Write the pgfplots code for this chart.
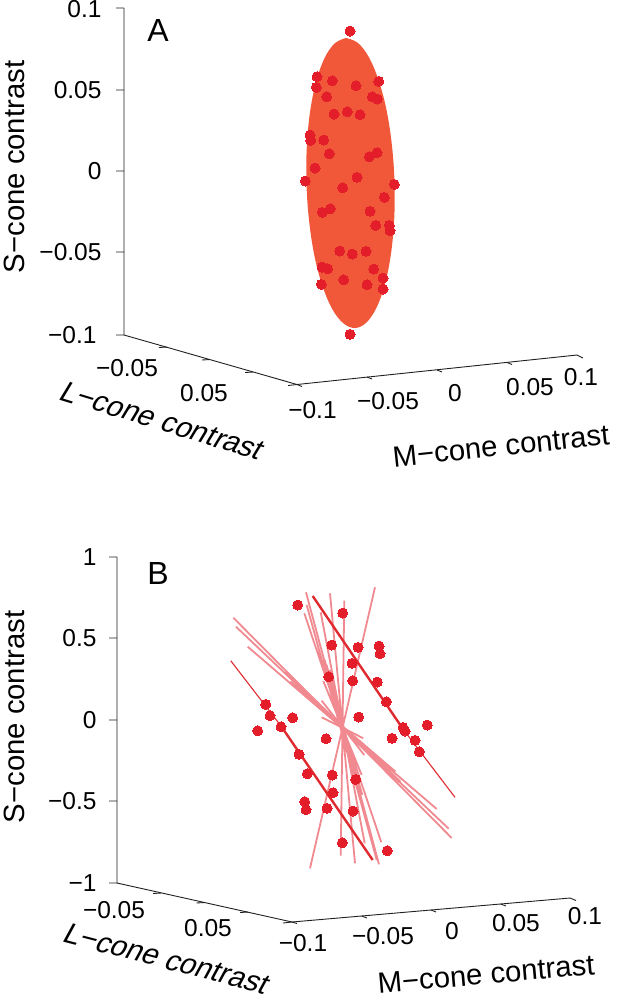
\documentclass[border=0pt]{standalone}
\usepackage{pgfplots}
\pgfplotsset{compat=1.18}
\usepackage{fontspec}
\setmainfont{Liberation Sans}
\definecolor{axc}{HTML}{231F20}
\definecolor{dotc}{HTML}{E31E2A}
\definecolor{ell}{HTML}{F1583A}
\definecolor{pale}{HTML}{F08A90}
\definecolor{dark}{HTML}{DF2A30}
\newcommand{\tl}{\fontsize{24.5}{28}\selectfont}
\newcommand{\al}{\fontsize{29.3}{34}\selectfont}
\begin{document}
\begin{tikzpicture}
\path[use as bounding box] (0,0) rectangle (620pt,997pt);
\begin{axis}[at={(0,0)},anchor=south west,scale only axis,width=620pt,height=997pt,
  xmin=0,xmax=620,ymin=0,ymax=997,y dir=reverse,hide axis,clip=false,unbounded coords=jump,
  every node/.append style={inner sep=0pt}]
% ---------- Panel A ----------
\addplot[axc,line width=0.9pt] coordinates {(124,8)(124,335)(297,384.5)(577,355)};
\addplot[axc,line width=0.9pt] coordinates {
 (116,8)(124,8) (nan,nan) (116,90)(124,90) (nan,nan) (116,171)(124,171) (nan,nan) (116,252)(124,252) (nan,nan) (116,335)(124,335) (nan,nan)
 (159,347.5)(167,347) (nan,nan) (202,360)(210,359.5) (nan,nan) (245,372.5)(253,372) (nan,nan) (288,385.5)(297,384.5) (nan,nan)
 (297,384.5)(302,386.5) (nan,nan) (367,377)(372,379) (nan,nan) (437,370)(442,372) (nan,nan) (507,362.5)(512,364.5) (nan,nan) (577,355)(583,358)};
\addplot[fill=ell,draw=none,smooth,tension=0.6] coordinates {
 (346,38)(357.6,42.7)(368.6,56.7)(378.4,79.6)(386.4,109.4)(391.8,144.2)(394.5,181.7)(394.2,219.2)(390.9,254.4)(384.8,284.6)(376.4,307.9)(366.2,322.7)(355,328)
 (343.4,323.3)(332.4,309.3)(322.6,286.4)(314.6,256.6)(309.2,221.8)(306.5,184.3)(306.8,146.8)(310.1,111.6)(316.2,81.4)(324.6,58)(334.8,43.3)(346,38)};
\addplot[dotc,only marks,mark=*,mark size=5pt,mark options={fill=dotc,draw=dotc,line width=0pt}] coordinates {
 (350,31)(317,76.7)(332.3,80.7)(356,85.7)(378.7,81.3)(316.3,87.3)(326.7,96.7)(372.3,96.7)(377.3,99)(334,114)(347.3,111.7)(360,114.7)
 (310,135)(310.7,140.3)(323.7,140)(329.3,153.7)(369.3,156.7)(377,152.7)(315,168)(305.3,181)(357,177.3)(342.7,187.7)(394.3,184.3)(384.3,197.3)
 (330.3,208.7)(322.3,212.3)(370,211.3)(375.7,225.3)(389.3,225.3)(390,230.7)(339.7,251)(352.3,254)(366,251.3)(322,267)(327.7,268.7)(373.7,269)
 (383,278)(343.7,279.7)(321.3,284.3)(367,284.7)(383,289)(350,334.3)};
\node[anchor=east,font=\tl] at (axis cs:105,9.5) {0.1};
\node[anchor=east,font=\tl] at (axis cs:105,90) {0.05};
\node[anchor=east,font=\tl] at (axis cs:105,171) {0};
\node[anchor=east,font=\tl] at (axis cs:105,252) {−0.05};
\node[anchor=east,font=\tl] at (axis cs:100,335) {−0.1};
\node[font=\tl] at (axis cs:127,368) {−0.05};
\node[font=\tl] at (axis cs:204,393) {0.05};
\node[font=\tl] at (axis cs:312.5,410) {−0.1};
\node[font=\tl] at (axis cs:388,401) {−0.05};
\node[font=\tl] at (axis cs:455,393) {0};
\node[font=\tl] at (axis cs:530,387) {0.05};
\node[font=\tl] at (axis cs:581,377) {0.1};
\node[font=\al,rotate=90] at (axis cs:14,167) {S−cone contrast};
\node[font=\al,rotate=-17,xslant=0.25] at (axis cs:163,421) {L−cone contrast};
\node[font=\al,rotate=6] at (axis cs:501,446) {M−cone contrast};
\node[font=\fontsize{32}{36}\selectfont] at (axis cs:158,30) {A};
% ---------- Panel B ----------
\addplot[axc,line width=0.9pt] coordinates {(117,557)(117,883)(292,922)(570,898)};
\addplot[axc,line width=0.9pt] coordinates {
 (109,557)(117,557) (nan,nan) (109,638)(117,638) (nan,nan) (109,720)(117,720) (nan,nan) (109,801)(117,801) (nan,nan) (109,883)(117,883) (nan,nan)
 (153,893.5)(161,893) (nan,nan) (196.5,903)(204.5,902.5) (nan,nan) (240,912.5)(248,912) (nan,nan) (283,923)(292,922) (nan,nan)
 (292,922)(297,923.5) (nan,nan) (361.5,916)(367,918) (nan,nan) (431,910)(436,912) (nan,nan) (500.5,904)(506,906) (nan,nan) (570,898)(576,900.5)};
% dots that lie behind the lines
\addplot[dotc,only marks,mark=*,mark size=5pt,mark options={fill=dotc,draw=dotc,line width=0pt}] coordinates {(328.7,676.7)(355.7,779.3)};
% lines through the origin
\addplot[pale,line width=1.8pt] coordinates {
 (375,587.3)(310,868.3) (nan,nan) (344.3,600.7)(340.7,855.7) (nan,nan) (330,593.3)(355,863.3) (nan,nan) (306,592.3)(379,864.3) (nan,nan)
 (306.7,605)(376.7,860) (nan,nan) (304.3,613.3)(381.3,842.3) (nan,nan) (320.7,612.3)(364.7,843.3) (nan,nan) (233.3,617.7)(451.7,838) (nan,nan)
 (236,626.7)(448.7,828.7) (nan,nan) (247.7,646.7)(436.7,809) (nan,nan) (323.3,681)(361.7,775) (nan,nan) (321.7,700.7)(364.3,755) (nan,nan) (321.7,717.3)(363.3,738.3)};
% the same lines, thicker near the centre
\addplot[pale,line width=3pt] coordinates {
 (324,660)(361.7,795) (nan,nan) (326,665)(360,790) (nan,nan) (330,670)(356,785) (nan,nan)
 (285,672)(400,782) (nan,nan) (290,682)(395,772) (nan,nan)};
\addplot[dark,line width=2.4pt] coordinates {(312.7,596)(403,729)};
\addplot[dark,line width=1.1pt] coordinates {(403,729)(455,797.3)};
\addplot[dark,line width=1.1pt] coordinates {(230.7,660.7)(281,726)};
\addplot[dark,line width=2.4pt] coordinates {(281,726)(372.7,860)};
\addplot[dotc,only marks,mark=*,mark size=5pt,mark options={fill=dotc,draw=dotc,line width=0pt}] coordinates {
 (297.7,605)(342.7,613)(331.7,645)(358,647.3)(379,646)(380,653.7)(352,663.3)(352.7,680.7)(377.3,682)(386.3,701.7)(265.7,704.3)(270,715.7)(292.7,717.7)
 (358.7,717)(427.3,725)(403,727.5)(405,731)(257.7,730.7)(281,726.7)(326,738.7)(392,738.3)(415,740.3)(419.3,751.7)(299,754.3)(307.3,773.7)(332.3,775)
 (333,792.7)(304.7,801.7)(306,809.7)(327,808.3)(353,811)(342.3,842.7)(387.3,850.7)};
\node[anchor=east,font=\tl] at (axis cs:100,557) {1};
\node[anchor=east,font=\tl] at (axis cs:100,638) {0.5};
\node[anchor=east,font=\tl] at (axis cs:100,720) {0};
\node[anchor=east,font=\tl] at (axis cs:100,801) {−0.5};
\node[anchor=east,font=\tl] at (axis cs:100,883) {−1};
\node[font=\tl] at (axis cs:114,910) {−0.05};
\node[font=\tl] at (axis cs:208,928) {0.05};
\node[font=\tl] at (axis cs:303,943) {−0.1};
\node[font=\tl] at (axis cs:383,936) {−0.05};
\node[font=\tl] at (axis cs:452,931) {0};
\node[font=\tl] at (axis cs:516,923) {0.05};
\node[font=\tl] at (axis cs:585,916) {0.1};
\node[font=\al,rotate=90] at (axis cs:14,717) {S−cone contrast};
\node[font=\al,rotate=-14.5,xslant=0.25] at (axis cs:167,959) {L−cone contrast};
\node[font=\al,rotate=5] at (axis cs:486,974) {M−cone contrast};
\node[font=\fontsize{32}{36}\selectfont] at (axis cs:158,573) {B};
\end{axis}
\end{tikzpicture}
\end{document}
